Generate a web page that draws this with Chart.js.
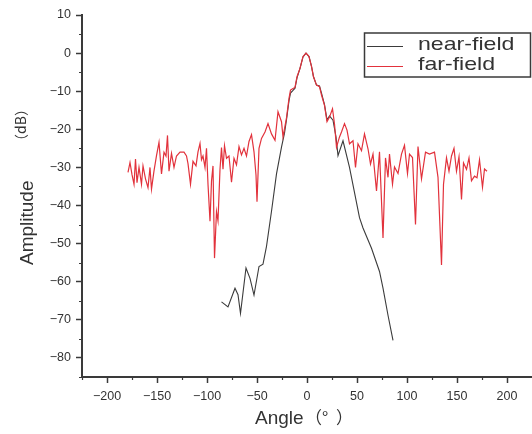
<!DOCTYPE html>
<html>
<head>
<meta charset="utf-8">
<script src="https://cdn.jsdelivr.net/npm/chart.js@4.4.1/dist/chart.umd.min.js"></script>
<style>
html, body { margin: 0; padding: 0; background: #fff; }
#wrap { width: 532px; height: 434px; }
</style>
</head>
<body>
<div id="wrap"><canvas id="c" width="532" height="434"></canvas></div>
<script>
'use strict';

// near-field pattern (angle in degrees, amplitude in dB)
var nearAngle = [-85.5,-79,-72,-69,-66.5,-61,-57,-53,-48,-44,-40.5,-35.5,-30.5,-25.5,-22.5,-20.5,-18,-16.5,-14,-12,-10,-7,-4,-1,0,2,4.5,6.5,9.5,12.5,14.5,17.5,20,22.5,26,29,31,36,42.5,52.5,56,64.5,72.5,76,81,86]
var nearDb = [-65.3,-66.6,-61.7,-63.4,-68.3,-56.4,-59.1,-63.5,-56,-55.4,-50.7,-41.5,-31.7,-24.7,-21,-17.5,-12.5,-10.5,-9.8,-9.2,-6.5,-4,-1,0,-0.3,-0.9,-3.5,-6.2,-8.4,-8.6,-10.5,-13.5,-17.5,-16.5,-17.6,-22,-26.9,-23,-30,-43.2,-45.9,-51.2,-57.3,-61.7,-68.8,-75.4]

// far-field pattern
var farAngle = [-179,-177,-175,-173,-171.5,-170,-168,-165.5,-164,-161.5,-159,-157,-155.5,-153,-150.5,-148,-145.5,-143,-141,-139.5,
	-138,-135.5,-133,-130.5,-127,-123,-120.5,-119,-116.5,-114,-111,-109,-107,-105.5,-104,-102,-100.5,-99,-97,-95.5,
	-94,-92.5,-90.5,-89,-87,-85.5,-84,-82.5,-80.5,-78,-75.5,-73,-70.5,-68,-65.5,-63,-60.5,-58,-55.5,-53,
	-51,-50,-48,-45.5,-42,-39,-35.5,-32,-29,-25.5,-24,-20.5,-18,-16.5,-14,-12,-10,-7,-4,-1,
	0,2,4.5,6.5,9.5,12.5,14.5,17.5,20,22.5,25.5,27.5,29.5,32.5,34.5,37.5,40,42.5,46,48.5,
	51,54.5,57.5,61,63.5,66,69.5,72.5,76,78.5,81,82.5,85.5,87.5,91,94.5,97.5,100.5,102.5,105.5,
	108.5,111,114.5,118.5,122.5,127.5,131,134.5,136.5,139.5,142,144.5,147,149.5,152,154.5,156.5,159.5,162,164.5,
	167.5,170,172.5,175.5,177.5,180]
var farDb = [-31.3,-28.7,-31.9,-34.4,-27.8,-34,-30,-34.4,-29.6,-33,-35.3,-30,-35.7,-30.9,-26.9,-23.4,-31.7,-26,-27,-21.6,
	-31,-26.3,-30,-27,-26,-26,-27,-29,-34.4,-28.4,-29.6,-25.9,-23.7,-28,-27,-30,-25,-34.4,-44.1,-33.6,
	-29.6,-53.8,-41.6,-44,-30.5,-24.8,-30.5,-24.3,-27.6,-27,-33.9,-27.6,-29.3,-24.5,-26.7,-25,-27,-23.2,-21.4,-25.9,
	-32,-39,-25,-22.4,-20.7,-18.5,-21.2,-22.9,-15.4,-18,-22,-17,-11.9,-9.7,-9.3,-9,-6.2,-4,-0.9,0,
	-0.3,-0.9,-3.5,-6.2,-8.4,-8.8,-11,-13.7,-18,-16.8,-14.6,-18.6,-24.7,-22,-20.7,-18.5,-20.2,-23.8,-23,-30,
	-23.8,-25.6,-21.2,-25.1,-29.1,-26.5,-36.2,-25.9,-48.5,-27.5,-32.6,-26.5,-34.4,-29.9,-31.6,-26.5,-24.2,-31.6,-26.5,-27.4,
	-45,-24.5,-33,-26,-26.5,-26,-32.6,-55.6,-34.4,-27.5,-31,-27,-25,-31,-27.2,-38.4,-28.8,-30.5,-27.5,-33.5,
	-32.3,-32.7,-28,-35.2,-30.4,-31]

var seriesLabels = ['near-field', 'far-field']
var xTicks = [-200,-150,-100,-50,0,50,100,150,200]
var xMinor = [-225,-175,-125,-75,-25,25,75,125,175]
var yTicks = [10,0,-10,-20,-30,-40,-50,-60,-70,-80]
var yMinor = [5,-5,-15,-25,-35,-45,-55,-65,-75,-85]

var axisColor = '#3a3a3a'
var textColor = '#333'

function pts(xs, ys) {
	return xs.map((x, i) => ({x: x, y: ys[i]}))
}

function minus(v) {
	return String(v).replace('-', '\u2212')
}

var decor = {
	id: 'decor',
	afterDraw(chart) {
		var ctx = chart.ctx, xs = chart.scales.x, ys = chart.scales.y, area = chart.chartArea
		ctx.save()

		// minor ticks
		ctx.strokeStyle = axisColor
		ctx.lineWidth = 1.2
		ctx.beginPath()
		xMinor.forEach((v) => {
			var px = Math.round(xs.getPixelForValue(v)) + 0.5
			ctx.moveTo(px, area.bottom)
			ctx.lineTo(px, area.bottom + 3)
		})
		yMinor.forEach((v) => {
			var py = Math.round(ys.getPixelForValue(v)) + 0.5
			ctx.moveTo(area.left, py)
			ctx.lineTo(area.left - 3, py)
		})
		ctx.stroke()

		// axis titles
		ctx.fillStyle = textColor
		ctx.textBaseline = 'alphabetic'
		ctx.textAlign = 'left'
		ctx.font = '19px "Liberation Sans"'
		ctx.fillText('Angle', 255, 424)
		ctx.font = '17px "Noto Sans CJK SC"'
		ctx.fillText('（°  ）', 305, 424)

		ctx.save()
		ctx.translate(33, 265)
		ctx.rotate(-Math.PI / 2)
		ctx.font = '19px "Liberation Sans"'
		ctx.fillText('Amplitude', 0, 0)
		ctx.font = '14px "Noto Sans CJK SC"'
		ctx.textAlign = 'center'
		ctx.fillText('（dB）', 140, -7)
		ctx.restore()

		// legend box
		ctx.strokeStyle = axisColor
		ctx.lineWidth = 1.5
		ctx.strokeRect(364.5, 33, 166, 44)
		chart.data.datasets.forEach((ds, i) => {
			var y = 46 + i * 20
			ctx.strokeStyle = ds.borderColor
			ctx.lineWidth = 1.2
			ctx.beginPath()
			ctx.moveTo(367, y + 0.5)
			ctx.lineTo(403, y + 0.5)
			ctx.stroke()
			ctx.save()
			ctx.translate(418, y + 4)
			ctx.scale(1.25, 1)
			ctx.fillStyle = textColor
			ctx.font = '18.5px "Liberation Sans"'
			ctx.textAlign = 'left'
			ctx.fillText(ds.label, 0, 0)
			ctx.restore()
		})

		ctx.restore()
	}
}

var chart = new Chart(document.getElementById('c').getContext('2d'), {
	type: 'line',
	data: {
		datasets: [
			{label: seriesLabels[0], data: pts(nearAngle, nearDb), borderColor: '#3b3b3b', borderWidth: 1.1, pointRadius: 0, tension: 0, fill: false, order: 1},
			{label: seriesLabels[1], data: pts(farAngle, farDb), borderColor: '#e2323c', borderWidth: 1.2, pointRadius: 0, tension: 0, fill: false, order: 0}
		]
	},
	options: {
		responsive: false,
		animation: false,
		devicePixelRatio: 1,
		layout: {padding: {top: 15, right: 0, left: 0, bottom: 0}},
		plugins: {legend: {display: false}, tooltip: {enabled: false}},
		scales: {
			x: {
				type: 'linear',
				min: -225,
				max: 225,
				afterBuildTicks: (s) => { s.ticks = xTicks.map((v) => ({value: v})) },
				afterFit: (s) => { s.height = 57 },
				ticks: {callback: minus, color: textColor, font: {family: 'Liberation Sans', size: 12.5}, padding: 6, maxRotation: 0, autoSkip: false},
				grid: {drawOnChartArea: false, tickLength: 6, tickColor: axisColor, tickWidth: 1.5},
				border: {display: true, color: axisColor, width: 2}
			},
			y: {
				type: 'linear',
				min: -85,
				max: 10,
				afterBuildTicks: (s) => { s.ticks = yTicks.map((v) => ({value: v})) },
				afterFit: (s) => { s.width = 82 },
				ticks: {callback: minus, color: textColor, font: {family: 'Liberation Sans', size: 12.5}, padding: 5, autoSkip: false},
				grid: {drawOnChartArea: false, tickLength: 6, tickColor: axisColor, tickWidth: 1.5},
				border: {display: true, color: axisColor, width: 2}
			}
		}
	},
	plugins: [decor]
})
</script>
</body>
</html>
